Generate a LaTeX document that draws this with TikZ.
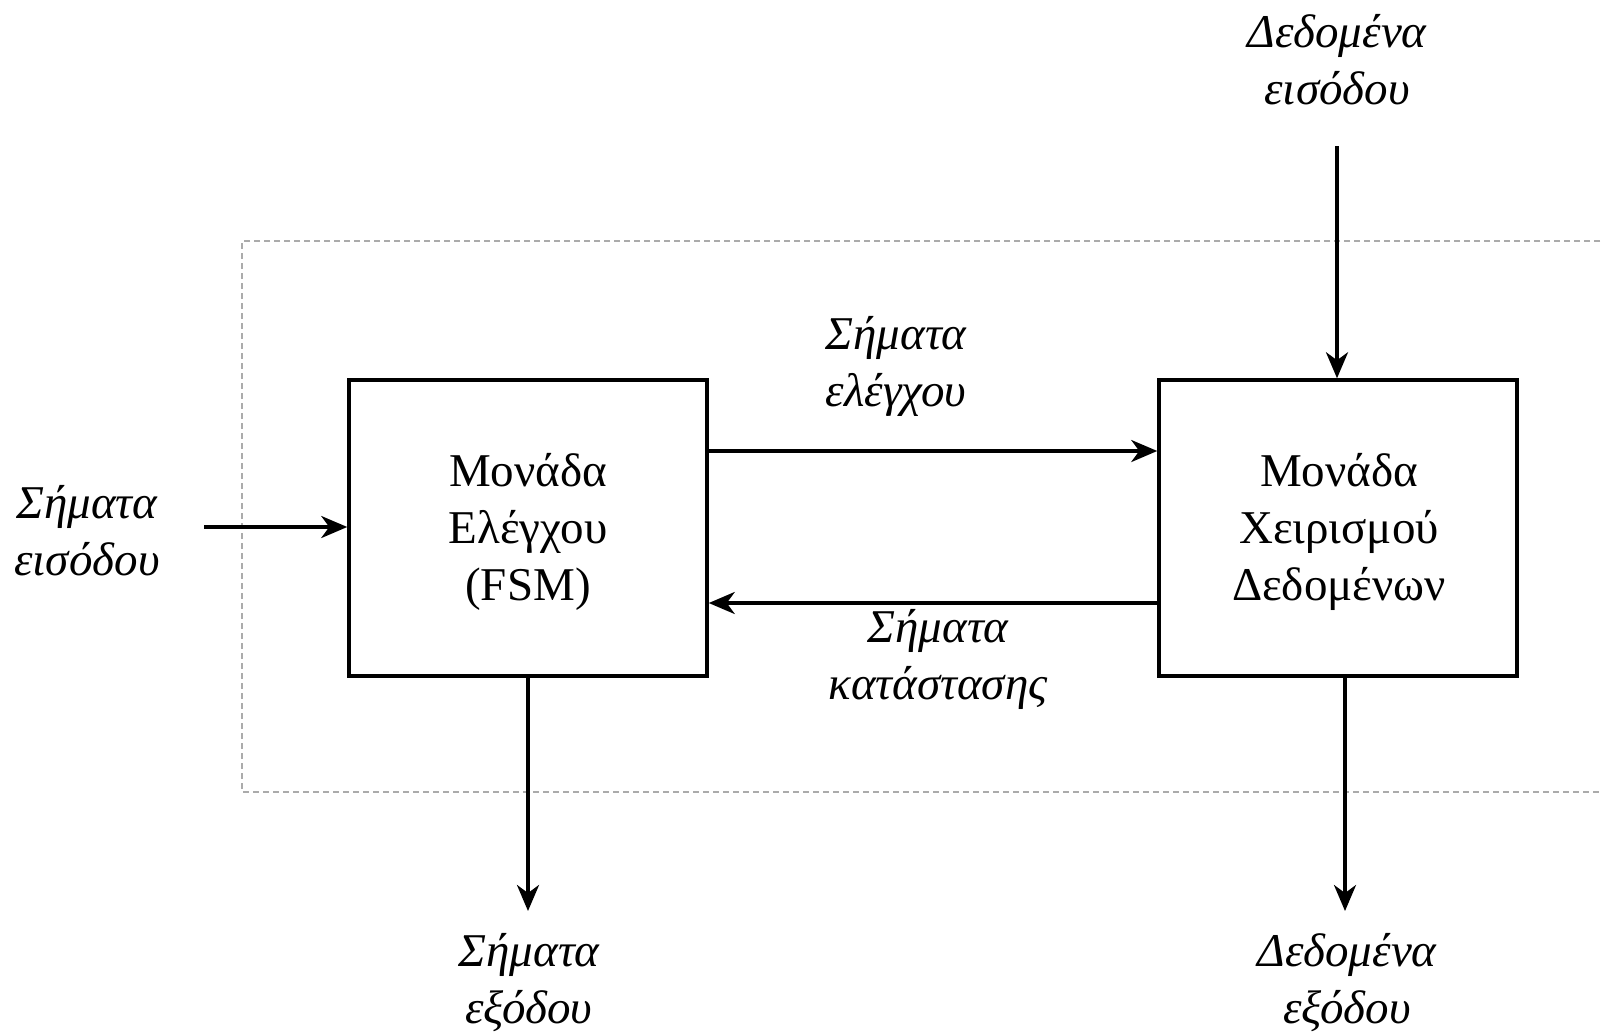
\documentclass[tikz,border=0pt]{standalone}
\usepackage{fontspec}
\setmainfont{Liberation Serif}
\usetikzlibrary{arrows.meta}
\begin{document}
\begin{tikzpicture}[x=1pt,y=-1pt,
  unit/.style={draw,line width=3.5pt,minimum width=358pt,minimum height=296pt,inner sep=0pt,
    align=center,font=\fontsize{47}{57}\selectfont},
  lbl/.style={align=center,font=\fontsize{47}{57}\selectfont\itshape},
  sig/.style={line width=3.5pt,-{Stealth[length=26pt,width=22pt,inset=8pt]}},
  frame/.style={draw=black!33,line width=1.5pt,dash pattern=on 6pt off 4pt}]
\useasboundingbox (0,0) rectangle (1602,1031);
\clip (0,0) rectangle (1602,1031);
\fill[white] (0,0) rectangle (1602,1031);

% surrounding system boundary
\draw[frame] (1640,241) -- (242,241) -- (242,792) -- (1640,792);

% processing units
\node[unit] (fsm) at (528,528) {};
\node[unit] (dp) at (1338,528) {};
\node[align=center,font=\fontsize{47}{57}\selectfont] (fsmT) at (528,532) {Μονάδα\\Ελέγχου\\(FSM)};
\node[align=center,font=\fontsize{47}{57}\selectfont] (dpT) at (1339,532) {Μονάδα\\Χειρισμού\\Δεδομένων};

% external signal labels
\node[lbl] (din) at (1337,60) {Δεδομένα\\εισόδου};
\node[lbl] (sin) at (87,531) {Σήματα\\εισόδου};
\node[lbl] (sout) at (529,983) {Σήματα\\εξόδου};
\node[lbl] (dout) at (1347,983) {Δεδομένα\\εξόδου};
\node[lbl] (ctl) at (896,366) {Σήματα\\ελέγχου};
\node[lbl] (st) at (938,659) {Σήματα\\κατάστασης};

% free ends of the external connectors
\coordinate (dinE) at (1337,146);
\coordinate (sinE) at (204,527);
\coordinate (soutE) at (528,911);
\coordinate (doutE) at (1345,911);

% connectors
\draw[sig] (dinE) -- (dinE |- dp.north);
\draw[sig] (sinE) -- (sinE -| fsm.west);
\draw[sig] (fsm.south) -- (soutE);
\draw[sig] (doutE |- dp.south) -- (doutE);
\draw[sig] ([yshift=77pt]fsm.east) -- ([yshift=77pt]dp.west);
\draw[sig] ([yshift=-75pt]dp.west) -- ([yshift=-75pt]fsm.east);
\end{tikzpicture}
\end{document}
